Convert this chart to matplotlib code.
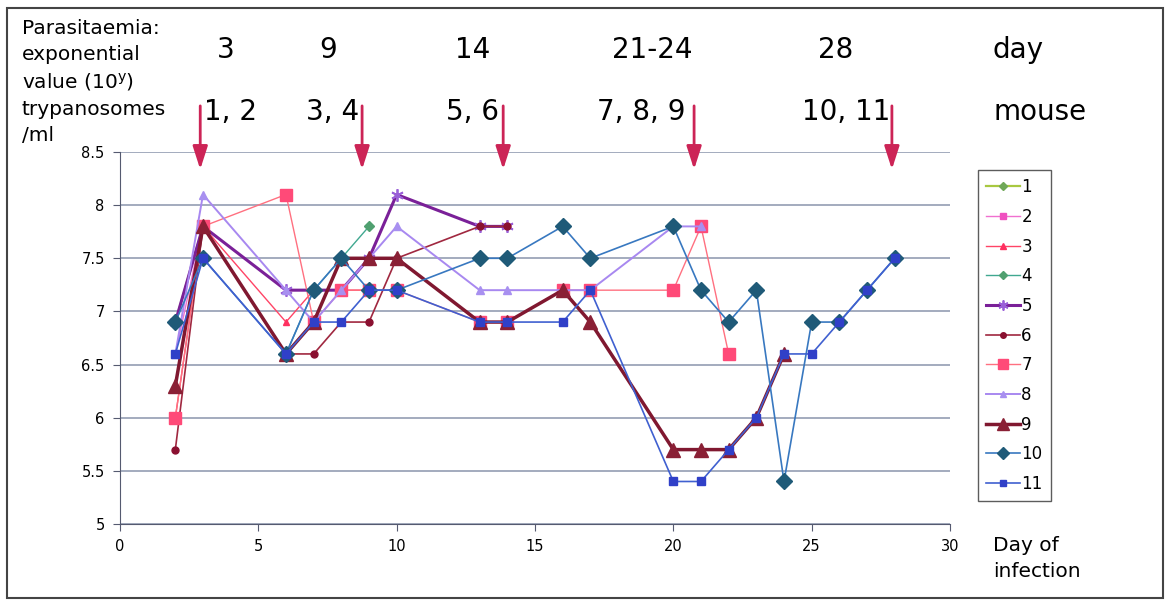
import numpy as np
import matplotlib
matplotlib.use("Agg")
import matplotlib.pyplot as plt
from matplotlib.patches import Rectangle

# Parasitaemia (log10 trypanosomes/ml) per mouse, by day of infection
days_1 = [2, 3]
mouse_1 = [6.9, 7.8]
days_2 = [2, 3]
mouse_2 = [6.6, 7.8]
days_3 = [2, 3, 6, 7, 8, 9]
mouse_3 = [6.0, 7.8, 6.9, 7.2, 7.2, 7.2]
days_4 = [2, 3, 6, 7, 8, 9]
mouse_4 = [6.9, 7.8, 6.6, 7.2, 7.5, 7.8]
days_5 = [2, 3, 6, 7, 8, 9, 10, 13, 14]
mouse_5 = [6.9, 7.8, 7.2, 7.2, 7.2, 7.5, 8.1, 7.8, 7.8]
days_6 = [2, 3, 6, 7, 8, 9, 10, 13, 14]
mouse_6 = [5.7, 7.8, 6.6, 6.6, 6.9, 6.9, 7.5, 7.8, 7.8]
days_7 = [2, 3, 6, 7, 8, 9, 10, 13, 14, 16, 17, 20, 21, 22]
mouse_7 = [6.0, 7.8, 8.1, 6.9, 7.2, 7.2, 7.2, 6.9, 6.9, 7.2, 7.2, 7.2, 7.8, 6.6]
days_8 = [2, 3, 6, 7, 8, 9, 10, 13, 14, 16, 17, 20, 21]
mouse_8 = [6.6, 8.1, 7.2, 6.9, 7.2, 7.5, 7.8, 7.2, 7.2, 7.2, 7.2, 7.8, 7.8]
days_9 = [2, 3, 6, 7, 8, 9, 10, 13, 14, 16, 17, 20, 21, 22, 23, 24]
mouse_9 = [6.3, 7.8, 6.6, 6.9, 7.5, 7.5, 7.5, 6.9, 6.9, 7.2, 6.9, 5.7, 5.7, 5.7, 6.0, 6.6]
days_10 = [2, 3, 6, 7, 8, 9, 10, 13, 14, 16, 17, 20, 21, 22, 23, 24, 25, 26, 27, 28]
mouse_10 = [6.9, 7.5, 6.6, 7.2, 7.5, 7.2, 7.2, 7.5, 7.5, 7.8, 7.5, 7.8, 7.2, 6.9, 7.2,
            5.4, 6.9, 6.9, 7.2, 7.5]
days_11 = [2, 3, 6, 7, 8, 9, 10, 13, 14, 16, 17, 20, 21, 22, 23, 24, 25, 26, 27, 28]
mouse_11 = [6.6, 7.5, 6.6, 6.9, 6.9, 7.2, 7.2, 6.9, 6.9, 6.9, 7.2, 5.4, 5.4, 5.7, 6.0,
            6.6, 6.6, 6.9, 7.2, 7.5]

kill_days = ["3", "9", "14", "21-24", "28"]
kill_mice = ["1, 2", "3, 4", "5, 6", "7, 8, 9", "10, 11"]
arrow_days = [2.9, 8.75, 13.85, 20.75, 27.9]

series = [
    ("1", days_1, mouse_1, dict(color="#a8c840", marker="D", mfc="#70a858", mec="#70a858", ms=5, lw=1.6)),
    ("2", days_2, mouse_2, dict(color="#f070d0", marker="s", mfc="#f050c0", mec="#f050c0", ms=5, lw=1.0)),
    ("3", days_3, mouse_3, dict(color="#ff4466", marker="^", mfc="#ff3060", mec="#ff3060", ms=5, lw=1.0)),
    ("4", days_4, mouse_4, dict(color="#40a890", marker="D", mfc="#50a070", mec="#50a070", ms=5, lw=1.0)),
    ("5", days_5, mouse_5, dict(color="#7a2098", marker=(6, 2, 0), mfc="#a070e0", mec="#9a60d8", ms=9, mew=1.3, lw=2.2)),
    ("6", days_6, mouse_6, dict(color="#a02840", marker="o", mfc="#8a1030", mec="#8a1030", ms=5, lw=1.2)),
    ("7", days_7, mouse_7, dict(color="#ff7080", marker="s", mfc="#ff4a78", mec="#ff4a78", ms=9, lw=1.0)),
    ("8", days_8, mouse_8, dict(color="#a888f0", marker="^", mfc="#a890f0", mec="#a890f0", ms=6, lw=1.4)),
    ("9", days_9, mouse_9, dict(color="#801830", marker="^", mfc="#8a2035", mec="#8a2035", ms=10, lw=2.5)),
    ("10", days_10, mouse_10, dict(color="#3878c0", marker="D", mfc="#1f5a78", mec="#1f5a78", ms=8, lw=1.2)),
    ("11", days_11, mouse_11, dict(color="#4060d0", marker="s", mfc="#3040c8", mec="#3040c8", ms=6, lw=1.2)),
]

W, H = 1171, 605
fig = plt.figure(figsize=(W / 100, H / 100), dpi=100)


def fx(x):
    return x / W


def fy(y):
    return 1 - y / H


ax = fig.add_axes([fx(120), fy(524), fx(950) - fx(120), fy(152) - fy(524)])

for label, d, v, style in series:
    ax.plot(d, v, label=label, **style)

ax.set_xlim(0, 30)
ax.set_ylim(5, 8.5)
ax.set_xticks(range(0, 31, 5))
ax.set_yticks(np.arange(5, 8.51, 0.5))
ax.set_yticklabels(["5", "5.5", "6", "6.5", "7", "7.5", "8", "8.5"])
ax.yaxis.grid(True, color="#8a94ac", lw=1.1)
ax.set_axisbelow(True)
for side in ("top", "right"):
    ax.spines[side].set_visible(False)
for side in ("left", "bottom"):
    ax.spines[side].set_color("#555a70")
ax.tick_params(direction="out", length=5, color="#555a70", labelsize=10.5, pad=6)

# sacrifice arrows
for d in arrow_days:
    ax.annotate("", xy=(d, 8.31), xytext=(d, 8.96), xycoords="data",
                annotation_clip=False,
                arrowprops=dict(arrowstyle="-|>,head_width=0.45,head_length=1.4",
                                color="#cc2456", lw=2))

fig.text(fx(22), fy(19), "Parasitaemia:\nexponential\nvalue (10$^{\\mathregular{y}}$)\ntrypanosomes\n/ml",
         ha="left", va="top", fontsize=14.5, linespacing=1.45)

day_x = [226, 328, 473, 652, 836]
mouse_x = [230, 333, 473, 641, 846]
for x, t in zip(day_x, kill_days):
    fig.text(fx(x), fy(50), t, ha="center", va="center", fontsize=20)
for x, t in zip(mouse_x, kill_mice):
    fig.text(fx(x), fy(112), t, ha="center", va="center", fontsize=20)
fig.text(fx(993), fy(50), "day", ha="left", va="center", fontsize=20)
fig.text(fx(993), fy(112), "mouse", ha="left", va="center", fontsize=20)
fig.text(fx(993), fy(536), "Day of\ninfection", ha="left", va="top", fontsize=14.5, linespacing=1.45)

leg = ax.legend(loc="upper left", bbox_to_anchor=(fx(978), fy(170)),
                bbox_transform=fig.transFigure, fontsize=12, frameon=True,
                fancybox=False, edgecolor="#333333", handlelength=2.0,
                handletextpad=0.1, labelspacing=0.7, borderpad=0.5,
                borderaxespad=0, markerscale=0.8)
leg.get_frame().set_linewidth(1.0)

# outer frame
fig.patches.append(Rectangle((fx(7), fy(598)), fx(1163) - fx(7), fy(8) - fy(598),
                             transform=fig.transFigure, fill=False,
                             edgecolor="#444444", lw=1.5))

fig.savefig("out.png", dpi=100)
